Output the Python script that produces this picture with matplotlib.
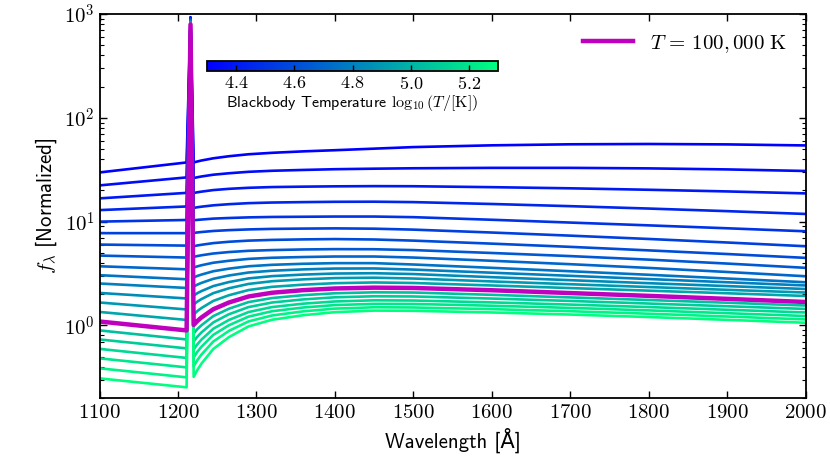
import numpy as np
import matplotlib
matplotlib.use('Agg')
import matplotlib.pyplot as plt
from matplotlib import colors, cm
from matplotlib.ticker import FuncFormatter, MultipleLocator, LogLocator, NullFormatter

plt.rcParams['mathtext.fontset'] = 'cm'
plt.rcParams['font.family'] = ['cmss10', 'DejaVu Sans']
plt.rcParams['axes.unicode_minus'] = False

# blackbody temperatures, log10(T/K)
log_temp = [4.30, 4.35, 4.40, 4.45, 4.50, 4.55, 4.60, 4.65, 4.70, 4.75, 4.80,
            4.85, 4.90, 4.95, 5.00, 5.05, 5.10, 5.15, 5.20, 5.25, 5.30]
highlight = 14  # T = 100,000 K

# wavelength samples [A]
wave_blue = [1100, 1211]
wave_line = [1216]
wave_red = [1220, 1225, 1230, 1245, 1265, 1290, 1320, 1360, 1400, 1450,
            1500, 1600, 1700, 1800, 1900, 2000]

# log10 of normalized flux (one row per temperature)
log_blue = [
    [1.474, 1.570], [1.349, 1.426], [1.224, 1.277], [1.111, 1.146],
    [1.000, 1.016], [0.889, 0.889], [0.779, 0.769], [0.673, 0.654],
    [0.570, 0.541], [0.484, 0.445], [0.404, 0.361], [0.313, 0.260],
    [0.221, 0.154], [0.130, 0.053], [0.038, -0.048], [-0.048, -0.135],
    [-0.135, -0.221], [-0.226, -0.313], [-0.317, -0.404], [-0.413, -0.500],
    [-0.510, -0.596],
]
log_peak = [2.970, 2.966, 2.962, 2.958, 2.954, 2.950, 2.946, 2.942, 2.938, 2.934, 2.930,
            2.926, 2.922, 2.918, 2.914, 2.910, 2.906, 2.902, 2.898, 2.894, 2.890]
log_peak_hl = 2.90
log_red = [
    [1.570, 1.580, 1.589, 1.610, 1.630, 1.649, 1.663, 1.677, 1.688, 1.703, 1.718, 1.735, 1.745, 1.748, 1.744, 1.734],
    [1.420, 1.428, 1.435, 1.452, 1.466, 1.480, 1.490, 1.498, 1.505, 1.510, 1.514, 1.518, 1.518, 1.513, 1.503, 1.488],
    [1.276, 1.283, 1.289, 1.304, 1.316, 1.326, 1.333, 1.337, 1.340, 1.342, 1.341, 1.332, 1.321, 1.307, 1.291, 1.272],
    [1.132, 1.139, 1.144, 1.157, 1.168, 1.178, 1.184, 1.188, 1.191, 1.192, 1.188, 1.170, 1.149, 1.126, 1.101, 1.074],
    [1.013, 1.017, 1.020, 1.029, 1.035, 1.041, 1.045, 1.047, 1.049, 1.049, 1.043, 1.018, 0.991, 0.964, 0.936, 0.907],
    [0.891, 0.896, 0.900, 0.910, 0.918, 0.925, 0.930, 0.933, 0.935, 0.932, 0.923, 0.895, 0.865, 0.833, 0.799, 0.763],
    [0.763, 0.771, 0.777, 0.793, 0.806, 0.817, 0.824, 0.829, 0.832, 0.828, 0.817, 0.788, 0.757, 0.723, 0.688, 0.651],
    [0.661, 0.669, 0.676, 0.693, 0.707, 0.719, 0.726, 0.732, 0.735, 0.734, 0.726, 0.698, 0.668, 0.634, 0.596, 0.555],
    [0.558, 0.570, 0.580, 0.604, 0.623, 0.641, 0.652, 0.659, 0.664, 0.664, 0.654, 0.623, 0.590, 0.554, 0.515, 0.474],
    [0.462, 0.478, 0.490, 0.522, 0.547, 0.570, 0.584, 0.594, 0.600, 0.600, 0.587, 0.555, 0.522, 0.488, 0.452, 0.416],
    [0.375, 0.394, 0.410, 0.449, 0.481, 0.510, 0.527, 0.540, 0.548, 0.549, 0.538, 0.508, 0.478, 0.447, 0.416, 0.385],
    [0.288, 0.312, 0.331, 0.379, 0.418, 0.453, 0.475, 0.490, 0.500, 0.503, 0.495, 0.465, 0.436, 0.407, 0.379, 0.351],
    [0.202, 0.231, 0.254, 0.311, 0.358, 0.400, 0.426, 0.444, 0.456, 0.460, 0.452, 0.424, 0.397, 0.370, 0.343, 0.317],
    [0.106, 0.140, 0.168, 0.236, 0.291, 0.341, 0.372, 0.393, 0.407, 0.414, 0.409, 0.385, 0.360, 0.335, 0.310, 0.284],
    [0.005, 0.045, 0.077, 0.156, 0.221, 0.279, 0.315, 0.340, 0.356, 0.364, 0.361, 0.339, 0.312, 0.285, 0.256, 0.226],
    [-0.077, -0.033, 0.002, 0.090, 0.161, 0.225, 0.264, 0.292, 0.310, 0.319, 0.317, 0.295, 0.270, 0.245, 0.219, 0.192],
    [-0.154, -0.106, -0.067, 0.029, 0.108, 0.177, 0.221, 0.251, 0.271, 0.281, 0.279, 0.259, 0.236, 0.211, 0.185, 0.159],
    [-0.231, -0.179, -0.136, -0.032, 0.053, 0.129, 0.177, 0.210, 0.231, 0.242, 0.240, 0.222, 0.201, 0.177, 0.151, 0.125],
    [-0.308, -0.251, -0.205, -0.091, 0.002, 0.085, 0.137, 0.173, 0.196, 0.208, 0.207, 0.190, 0.169, 0.145, 0.118, 0.091],
    [-0.394, -0.331, -0.280, -0.155, -0.052, 0.039, 0.096, 0.136, 0.162, 0.175, 0.173, 0.157, 0.137, 0.113, 0.086, 0.058],
    [-0.495, -0.425, -0.367, -0.227, -0.112, -0.009, 0.055, 0.099, 0.128, 0.143, 0.141, 0.125, 0.105, 0.081, 0.054, 0.026],
]

cbar_ticks = [4.4, 4.6, 4.8, 5.0, 5.2]

fig = plt.figure(figsize=(8.3, 4.69), dpi=100)
ax = fig.add_axes([0.1199, 0.1514, 0.8506, 0.8187])

cmap = plt.get_cmap('winter')
norm = colors.Normalize(vmin=4.3, vmax=5.3)
wave = wave_blue + wave_line + wave_red

for i, lt in enumerate(log_temp):
    logf = log_blue[i] + [log_peak[i]] + log_red[i]
    ax.plot(wave, 10 ** np.array(logf), color=cmap(norm(lt)), lw=1.9)

logf = log_blue[highlight] + [log_peak_hl] + log_red[highlight]
ax.plot(wave, 10 ** np.array(logf), color='m', lw=3.2,
        label=r'$T\,=\,100,000\ \mathrm{K}$')

ax.set_yscale('log')
ax.set_xlim(1100, 2000)
ax.set_ylim(0.2, 1000)
ax.xaxis.set_major_locator(MultipleLocator(100))
ax.xaxis.set_major_formatter(FuncFormatter(lambda v, p: r'$%d$' % v))
ax.yaxis.set_major_locator(LogLocator(base=10))
ax.yaxis.set_major_formatter(FuncFormatter(lambda v, p: r'$10^{%d}$' % round(np.log10(v))))
ax.yaxis.set_minor_formatter(NullFormatter())
ax.tick_params(which='both', direction='in', top=True, right=True, labelsize=15)
ax.tick_params(which='major', length=5, width=1)
ax.tick_params(which='minor', length=3, width=0.8)
for sp in ax.spines.values():
    sp.set_linewidth(1.3)

ax.set_xlabel('Wavelength [Å]', fontsize=15)
ax.set_ylabel(r'$f_\lambda$ [Normalized]', fontsize=15)
ax.legend(loc='upper right', frameon=False, fontsize=15, handlelength=2.4)

cax = fig.add_axes([0.2494, 0.849, 0.3506, 0.0207])
sm = cm.ScalarMappable(norm=norm, cmap=cmap)
cb = fig.colorbar(sm, cax=cax, orientation='horizontal')
cb.set_ticks(cbar_ticks)
cb.set_ticklabels([r'$%.1f$' % t for t in cbar_ticks])
cax.tick_params(direction='in', labelsize=13, length=4, width=1, pad=3)
cb.outline.set_linewidth(1.3)
cb.set_label(r'Blackbody Temperature $\log_{10}(T/[\mathrm{K}])$', fontsize=11.5, labelpad=1)

fig.savefig('out.png', dpi=100)
